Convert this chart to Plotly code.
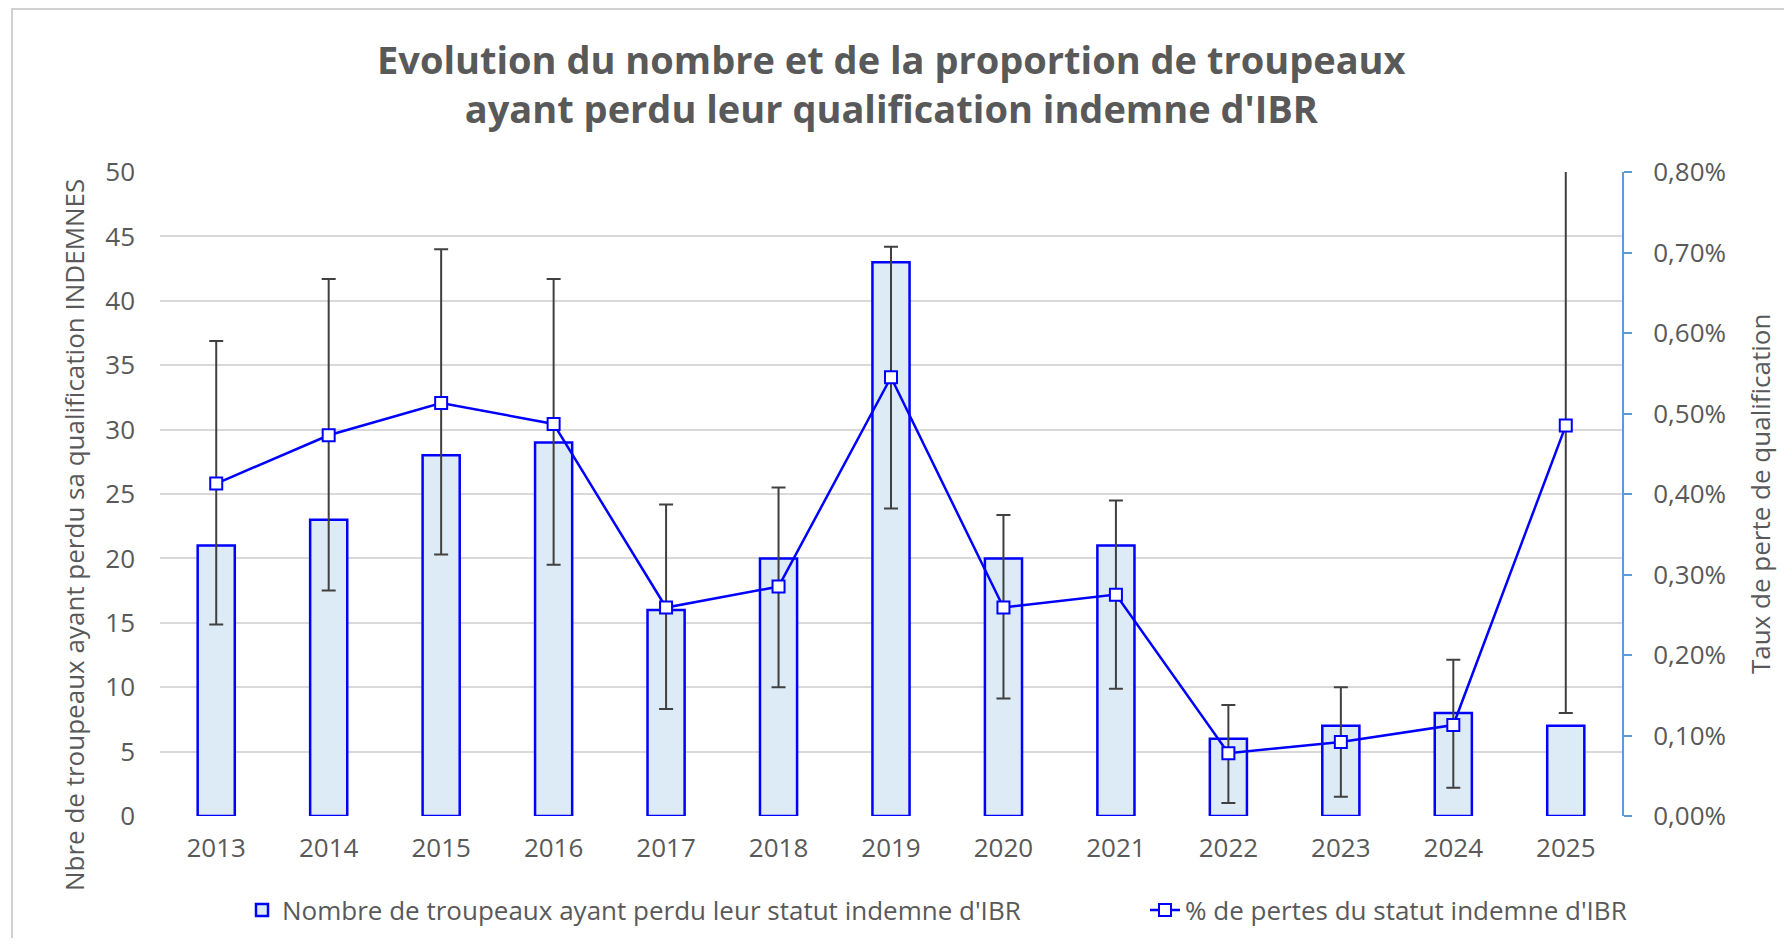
import plotly.graph_objects as go

years = ["2013", "2014", "2015", "2016", "2017", "2018", "2019", "2020", "2021", "2022", "2023", "2024", "2025"]
nb_troupeaux = [21, 23, 28, 29, 16, 20, 43, 20, 21, 6, 7, 8, 7]
pct_pertes = [0.413, 0.473, 0.513, 0.487, 0.259, 0.285, 0.545, 0.259, 0.275, 0.078, 0.092, 0.113, 0.485]
ci_haut = [0.590, 0.667, 0.704, 0.667, 0.387, 0.408, 0.707, 0.374, 0.392, 0.138, 0.160, 0.194, 0.95]
ci_bas = [0.238, 0.280, 0.325, 0.312, 0.133, 0.160, 0.382, 0.146, 0.158, 0.016, 0.024, 0.035, 0.128]

left_ticks = list(range(0, 51, 5))

GRAY = "#595959"
BLUE = "#0000FF"
FONT = "Open Sans"
FS = 26

pct_frac = [p / 100 for p in pct_pertes]
err_plus = [(h - p) / 100 for h, p in zip(ci_haut, pct_pertes)]
err_minus = [(p - l) / 100 for p, l in zip(pct_pertes, ci_bas)]

fig = go.Figure()
fig.add_trace(go.Bar(
    x=years, y=nb_troupeaux,
    name="Nombre de troupeaux ayant perdu leur statut indemne d'IBR",
    marker=dict(color="#DDEBF7", line=dict(color=BLUE, width=2.5)),
    width=0.33, yaxis="y", legend="legend",
))
fig.add_trace(go.Scatter(
    x=years, y=pct_frac,
    name="% de pertes du statut indemne d'IBR",
    mode="lines+markers",
    line=dict(color=BLUE, width=2.5),
    marker=dict(symbol="square", size=12, color="white", line=dict(color=BLUE, width=2)),
    error_y=dict(type="data", symmetric=False, array=err_plus, arrayminus=err_minus,
                 color="#404040", thickness=2, width=7),
    yaxis="y2", legend="legend2",
))

W, H = 1776, 930
L, R, T, B = 152, 162, 164, 122
pw = W - L - R
ph = H - T - B

def px_x(x):
    return (x - L) / pw

def px_y(y):
    return (H - B - y) / ph

leg_y = px_y(902)

fig.update_layout(
    width=W, height=H,
    margin=dict(l=L, r=R, t=T, b=B, pad=0, autoexpand=False),
    paper_bgcolor="white",
    plot_bgcolor="rgba(0,0,0,0)",
    separators=", ",
    font=dict(family=FONT, color=GRAY, size=FS),
    xaxis=dict(
        range=[-0.5, 12.5],
        showgrid=False, showline=False, zeroline=False,
        tickfont=dict(size=FS, color=GRAY),
        ticklabelstandoff=14,
    ),
    yaxis=dict(
        range=[0, 50], tickvals=left_ticks,
        showgrid=True, gridcolor="#D9D9D9", gridwidth=1.5,
        zeroline=False, showline=False,
        tickfont=dict(size=FS, color=GRAY),
        ticklabelstandoff=24,
    ),
    yaxis2=dict(
        range=[0, 0.008], dtick=0.001, tickformat=".2%",
        overlaying="y", side="right",
        showgrid=False, zeroline=False,
        showline=True, linecolor="#5B9BD5", linewidth=2,
        ticks="outside", ticklen=8, tickcolor="#5B9BD5", tickwidth=2,
        tickfont=dict(size=FS, color=GRAY),
        ticklabelstandoff=16,
    ),
    showlegend=True,
    legend=dict(
        orientation="h", x=px_x(234), xanchor="left",
        y=leg_y, yanchor="middle",
        font=dict(size=FS, color=GRAY),
        bgcolor="rgba(0,0,0,0)",
    ),
    legend2=dict(
        orientation="h", x=px_x(1137), xanchor="left",
        y=leg_y, yanchor="middle",
        font=dict(size=FS, color=GRAY),
        bgcolor="rgba(0,0,0,0)",
    ),
    annotations=[
        dict(text="<b>Evolution du nombre et de la proportion de troupeaux<br>ayant perdu leur qualification indemne d'IBR</b>",
             xref="paper", yref="paper", x=0.5, y=px_y(75),
             showarrow=False, xanchor="center", yanchor="middle",
             font=dict(size=38, color=GRAY, family=FONT)),
        dict(text="Nbre de troupeaux ayant perdu sa qualification INDEMNES",
             xref="paper", yref="paper", x=px_x(66), y=px_y(527),
             textangle=-90, showarrow=False, xanchor="center", yanchor="middle",
             font=dict(size=FS, color=GRAY)),
        dict(text="Taux de perte de qualification",
             xref="paper", yref="paper", x=px_x(1752), y=0.5,
             textangle=-90, showarrow=False, xanchor="center", yanchor="middle",
             font=dict(size=FS, color=GRAY)),
    ],
    shapes=[
        dict(type="rect", xref="paper", yref="paper",
             x0=px_x(4), x1=px_x(W + 20),
             y0=px_y(H + 20), y1=px_y(1),
             line=dict(color="#D0D0D0", width=2), fillcolor="rgba(0,0,0,0)", layer="below"),
    ],
)

fig.write_html("out.html")
